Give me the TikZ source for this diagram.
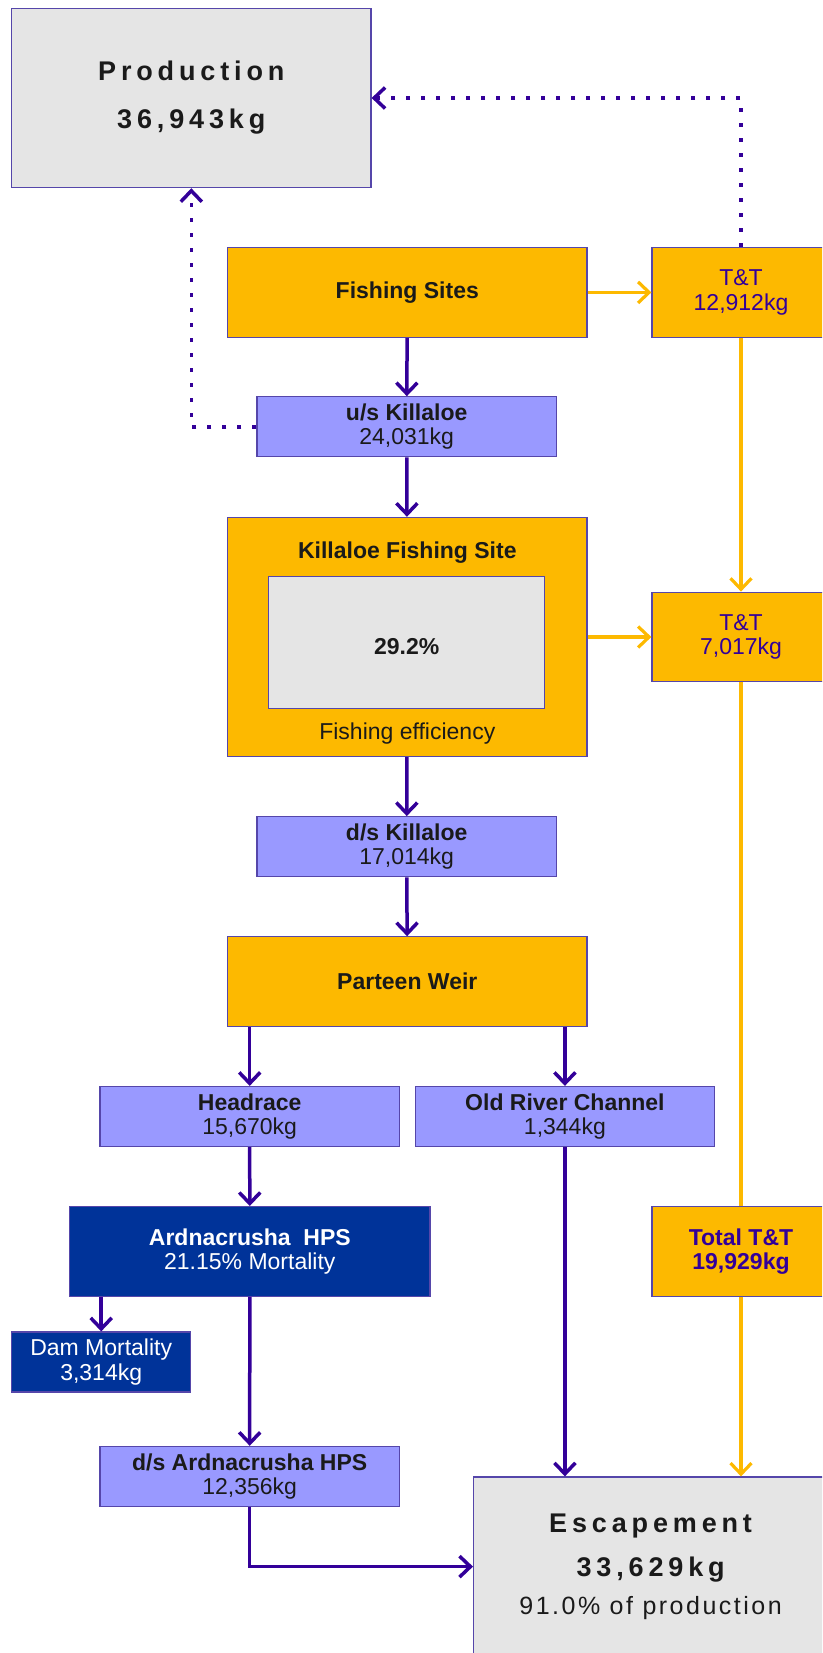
\documentclass[tikz,border=0pt]{standalone}
\usepackage{fontspec}
\setmainfont{Liberation Sans}
\newfontfamily\spacedfont[LetterSpace=18]{Liberation Sans}
\newfontfamily\lightspacedfont[LetterSpace=10]{Liberation Sans}
\usepackage{xcolor}
\usetikzlibrary{arrows.meta,positioning,calc}
\definecolor{fishyellow}{RGB}{253,185,0}
\definecolor{flowblue}{RGB}{153,153,255}
\definecolor{damblue}{RGB}{0,51,153}
\definecolor{boxgrey}{RGB}{229,229,229}
\definecolor{flowpurple}{RGB}{51,0,153}
\definecolor{edgepurple}{RGB}{85,70,170}
\definecolor{inkblack}{RGB}{26,26,26}

\begin{document}
\begin{tikzpicture}[
  x=1pt, y=-1pt,
  every node/.style={font=\fontsize{23}{24.5}\selectfont, text=inkblack, inner sep=0pt, align=center},
  box/.style={draw=edgepurple, line width=1.2pt, minimum width=#1},
  site/.style={box=359.4pt, fill=fishyellow, minimum height=89.6pt},
  count/.style={box=299.4pt, fill=flowblue, minimum height=60pt},
  tt/.style={box=178pt, fill=fishyellow, minimum height=89.6pt, text=flowpurple},
  hps/.style={fill=damblue, text=white},
  flow/.style={draw=flowpurple, line width=3.5pt, -{Straight Barb[length=11pt,width=21pt]}},
  ttline/.style={draw=fishyellow, line width=3.2pt},
  ttflow/.style={ttline, -{Straight Barb[length=11pt,width=21pt]}},
  backflow/.style={flow, dash pattern=on 4pt off 11pt},
]
  \useasboundingbox (0,0) rectangle (822,1653);
  \clip (0,0) rectangle (822,1653);

  % boxes
  \node[box=359.4pt, fill=boxgrey, minimum height=179.2pt, font=\spacedfont\fontsize{27}{48}\selectfont\bfseries] (prod) at (191.3,98) {Production\\36,943kg};
  \node[site] (fish) at (407.3,292.4) {\bfseries Fishing Sites};
  \node[tt] (tt1) at (741,292.4) {T\&T\\12,912kg};
  \node[count] (usk) at (406.7,426.8) {{\bfseries u/s Killaloe}\\24,031kg};
  \node[site, minimum height=239.2pt] (kfs) at (407.3,637) {};
  \node[box=276pt, fill=boxgrey, minimum height=131.8pt] (eff) at (406.7,642.3) {};
  \node (effval) at (406.7,647) {\bfseries 29.2\%};
  \node (kfstitle) at (407.3,553) {\bfseries Killaloe Fishing Site};
  \node (kfsfoot) at (407.3,734) {Fishing efficiency};
  \node[tt] (tt2) at (741,637) {T\&T\\7,017kg};
  \node[count] (dsk) at (406.7,846.7) {{\bfseries d/s Killaloe}\\17,014kg};
  \node[site] (weir) at (407.3,981.6) {\bfseries Parteen Weir};
  \node[count] (head) at (249.7,1116.5) {{\bfseries Headrace}\\15,670kg};
  \node[count] (orc) at (564.9,1116.5) {{\bfseries Old River Channel}\\1,344kg};
  \node[box=360.4pt, hps, minimum height=89.6pt] (ahps) at (249.8,1251.4) {{\bfseries Ardnacrusha\hspace{0.55em}HPS}\\21.15\% Mortality};
  \node[box=179pt, hps, minimum height=60pt] (dam) at (101.2,1362) {Dam Mortality\\3,314kg};
  \node[count] (dsa) at (249.7,1476.4) {{\bfseries d/s Ardnacrusha HPS}\\12,356kg};
  \node[tt] (ttt) at (741,1251.4) {{\bfseries Total T\&T}\\{\bfseries 19,929kg}};
  \node[box=354pt, fill=boxgrey, minimum height=179.2pt, anchor=north west, font=\spacedfont\fontsize{27}{44}\selectfont] (esc) at (473,1476.4)
    {{\bfseries Escapement}\\{\bfseries 33,629kg}\\[-6pt]{\lightspacedfont\fontsize{25}{37}\selectfont 91.0\% of production}};

  % connectors
  \draw[flow] (fish) -- (usk);
  \draw[flow] (usk) -- (kfs);
  \draw[flow] (kfs) -- (dsk);
  \draw[flow] (dsk) -- (weir);
  \draw[flow] (weir.south -| head) -- (head);
  \draw[flow] (weir.south -| orc) -- (orc);
  \draw[flow] (head) -- (ahps);
  \draw[flow] (ahps.south -| dam) -- (dam);
  \draw[flow] (ahps) -- (dsa);
  \draw[flow] (dsa.south) |- (esc.west);
  \draw[flow] (orc.south) -- (orc.south |- esc.north);
  \draw[ttflow] (fish) -- (tt1);
  \draw[ttflow] (tt1) -- (tt2);
  \draw[ttflow] (kfs) -- (tt2);
  \draw[ttline] (tt2) -- (ttt);
  \draw[ttflow] (ttt.south) -- (ttt.south |- esc.north);
  \draw[backflow] (tt1.north) |- (prod.east);
  \draw[backflow] (usk.west) -| (prod.south);
\end{tikzpicture}
\end{document}
